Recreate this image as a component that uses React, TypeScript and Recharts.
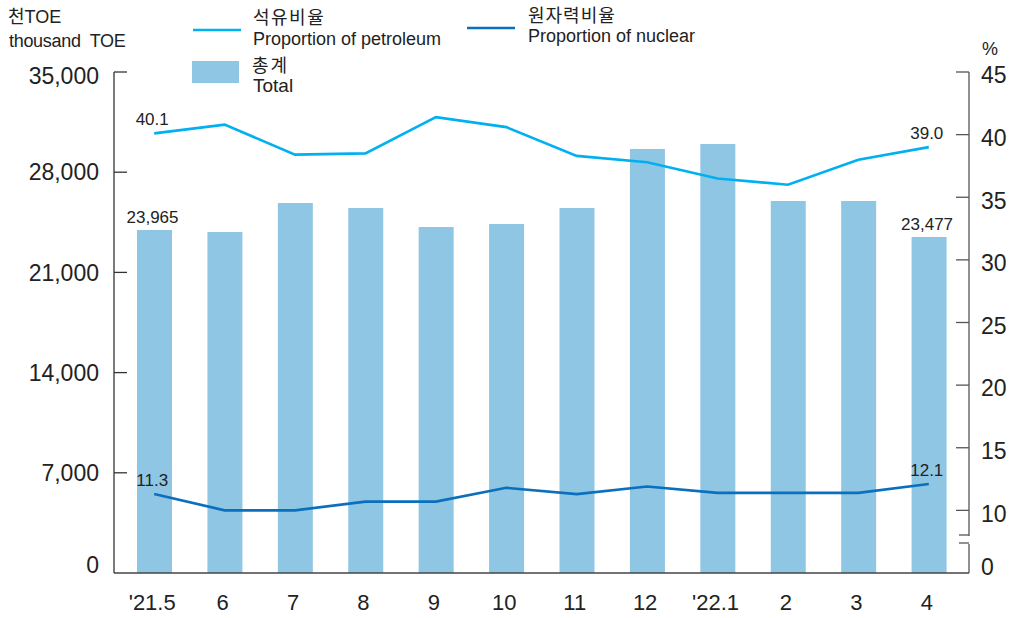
import React from 'react';
import { ComposedChart, Bar, Line, XAxis, YAxis, LabelList } from 'recharts';

const months = ["'21.5", '6', '7', '8', '9', '10', '11', '12', "'22.1", '2', '3', '4'];
const totals = [23965, 23820, 25850, 25500, 24170, 24380, 25500, 29620, 29970, 25990, 25990, 23477];
const petroleum = [40.1, 40.8, 38.4, 38.5, 41.4, 40.6, 38.3, 37.8, 36.5, 36.0, 38.0, 39.0];
const nuclear = [11.3, 10.0, 10.0, 10.7, 10.7, 11.8, 11.3, 11.9, 11.4, 11.4, 11.4, 12.1];

const leftTicks = [0, 7000, 14000, 21000, 28000, 35000];
// right axis is broken below 10: the lowest tick stands for 0
const rightTicks = [5, 10, 15, 20, 25, 30, 35, 40, 45];
const rightTickText: Record<number, string> = { 5: '0' };

const COLORS = {
  total: '#8fc6e4',
  petroleum: '#00b0f0',
  nuclear: '#0a70bd',
  text: '#222222',
};

const FONT = "'Liberation Sans', Arial, 'Noto Sans CJK KR', sans-serif";
const KR = "'Noto Sans CJK KR', 'Liberation Sans', sans-serif";

const chartData = months.map((m, i) => ({
  month: m,
  total: totals[i],
  petroleum: petroleum[i],
  nuclear: nuclear[i],
}));

const LeftTick = (props: any) => {
  const { x, y, payload } = props;
  const v = payload.value;
  const dy = v === 35000 ? 4 : v === 0 ? -8 : 0;
  return (
    <g>
      {v !== 0 && <line x1={x} x2={x + 13} y1={y} y2={y} stroke="#333" strokeWidth={1.3} />}
      <text x={x - 15} y={y + dy} dy="0.36em" textAnchor="end" fontSize={23} fill={COLORS.text} fontFamily={FONT}>
        {v.toLocaleString('en-US')}
      </text>
    </g>
  );
};

const RightTick = (props: any) => {
  const { x, y, payload } = props;
  const v = payload.value;
  const label = rightTickText[v] ?? String(v);
  if (v === 5) {
    // axis break marks
    return (
      <g>
        <rect x={x - 3} y={y - 37} width={6} height={8} fill="#fff" />
        <line x1={x - 10} x2={x} y1={y - 38} y2={y - 38} stroke="#555" strokeWidth={1.3} />
        <line x1={x - 10} x2={x} y1={y - 30} y2={y - 30} stroke="#555" strokeWidth={1.3} />
        <text x={x + 12} y={y - 6} dy="0.36em" textAnchor="start" fontSize={23} fill={COLORS.text} fontFamily={FONT}>
          {label}
        </text>
      </g>
    );
  }
  return (
    <g>
      <line x1={x - 13} x2={x} y1={y} y2={y} stroke="#555" strokeWidth={1.3} />
      <text x={x + 12} y={y + 3} dy="0.36em" textAnchor="start" fontSize={23} fill={COLORS.text} fontFamily={FONT}>
        {label}
      </text>
    </g>
  );
};

const MonthTick = (props: any) => {
  const { x, y, payload } = props;
  return (
    <text x={x - 2} y={y + 37} textAnchor="middle" fontSize={22} fill={COLORS.text} fontFamily={FONT}>
      {payload.value}
    </text>
  );
};

const makeEndLabel = (fmt: (v: number) => string, lift: number) => (props: any) => {
  const { index, value } = props;
  if (index !== 0 && index !== months.length - 1) return null;
  const vb = props.viewBox || {};
  const x = vb.x ?? props.x;
  const y = vb.y ?? props.y;
  const w = vb.width ?? props.width ?? 0;
  return (
    <text
      x={x + w / 2 - 2}
      y={y - lift}
      textAnchor="middle"
      fontSize={17}
      fill={COLORS.text}
      fontFamily={FONT}
    >
      {fmt(Number(value))}
    </text>
  );
};

const totalLabel = makeEndLabel((v) => v.toLocaleString('en-US'), 7);
const pctLabel = makeEndLabel((v) => v.toFixed(1), 8);

const Header = () => (
  <svg width={1014} height={100} style={{ position: 'absolute', left: 0, top: 0, pointerEvents: 'none' }}>
    <g fontFamily={FONT} fill={COLORS.text}>
      <text x={8} y={23} fontSize={18}>
        <tspan fontFamily={KR}>천</tspan>TOE
      </text>
      <text x={9} y={47} fontSize={18} letterSpacing={-0.3}>{'thousand\u00a0 TOE'}</text>
      <text x={982} y={55} fontSize={18}>%</text>

      <line x1={193} x2={241} y1={30} y2={30} stroke={COLORS.petroleum} strokeWidth={2.5} />
      <text x={253} y={24} fontSize={18} fontFamily={KR} letterSpacing={1.5}>석유비율</text>
      <text x={253} y={45} fontSize={18}>Proportion of petroleum</text>

      <line x1={467} x2={515} y1={28} y2={28} stroke={COLORS.nuclear} strokeWidth={2.5} />
      <text x={528} y={22} fontSize={18} fontFamily={KR} letterSpacing={1}>원자력비율</text>
      <text x={528} y={42} fontSize={18}>Proportion of nuclear</text>

      <rect x={192} y={61} width={47} height={22} fill={COLORS.total} />
      <text x={252} y={72} fontSize={18} fontFamily={KR} letterSpacing={2}>총계</text>
      <text x={253} y={92} fontSize={19}>Total</text>
    </g>
  </svg>
);

export default function App() {
  return (
    <div style={{ position: 'absolute', left: 0, top: 0, width: 1014, height: 618, background: '#fff' }}>
      <ComposedChart
        width={1014}
        height={618}
        data={chartData}
        margin={{ top: 72, right: 0, bottom: 0, left: 0 }}
      >
        <XAxis
          dataKey="month"
          height={45}
          padding={{ left: 5, right: 5 }}
          axisLine={{ stroke: '#444', strokeWidth: 1.3 }}
          tickLine={false}
          tickSize={0}
          tickMargin={0}
          interval={0}
          tick={<MonthTick />}
        />
        <YAxis
          yAxisId="left"
          orientation="left"
          width={114}
          domain={[0, 35000]}
          ticks={leftTicks}
          interval={0}
          axisLine={{ stroke: '#333', strokeWidth: 1.3 }}
          tickLine={false}
          tickSize={0}
          tickMargin={0}
          tick={<LeftTick />}
        />
        <YAxis
          yAxisId="right"
          orientation="right"
          width={45}
          domain={[5, 45]}
          ticks={rightTicks}
          interval={0}
          allowDataOverflow
          axisLine={{ stroke: '#555', strokeWidth: 1.3 }}
          tickLine={false}
          tickSize={0}
          tickMargin={0}
          tick={<RightTick />}
        />
        <Bar yAxisId="left" dataKey="total" fill={COLORS.total} barSize={35} isAnimationActive={false}>
          <LabelList dataKey="total" content={totalLabel} />
        </Bar>
        <Line
          yAxisId="right"
          type="linear"
          dataKey="petroleum"
          stroke={COLORS.petroleum}
          strokeWidth={2.6}
          dot={false}
          activeDot={false}
          isAnimationActive={false}
        >
          <LabelList dataKey="petroleum" content={pctLabel} />
        </Line>
        <Line
          yAxisId="right"
          type="linear"
          dataKey="nuclear"
          stroke={COLORS.nuclear}
          strokeWidth={2.6}
          dot={false}
          activeDot={false}
          isAnimationActive={false}
        >
          <LabelList dataKey="nuclear" content={pctLabel} />
        </Line>
      </ComposedChart>
      <Header />
    </div>
  );
}
